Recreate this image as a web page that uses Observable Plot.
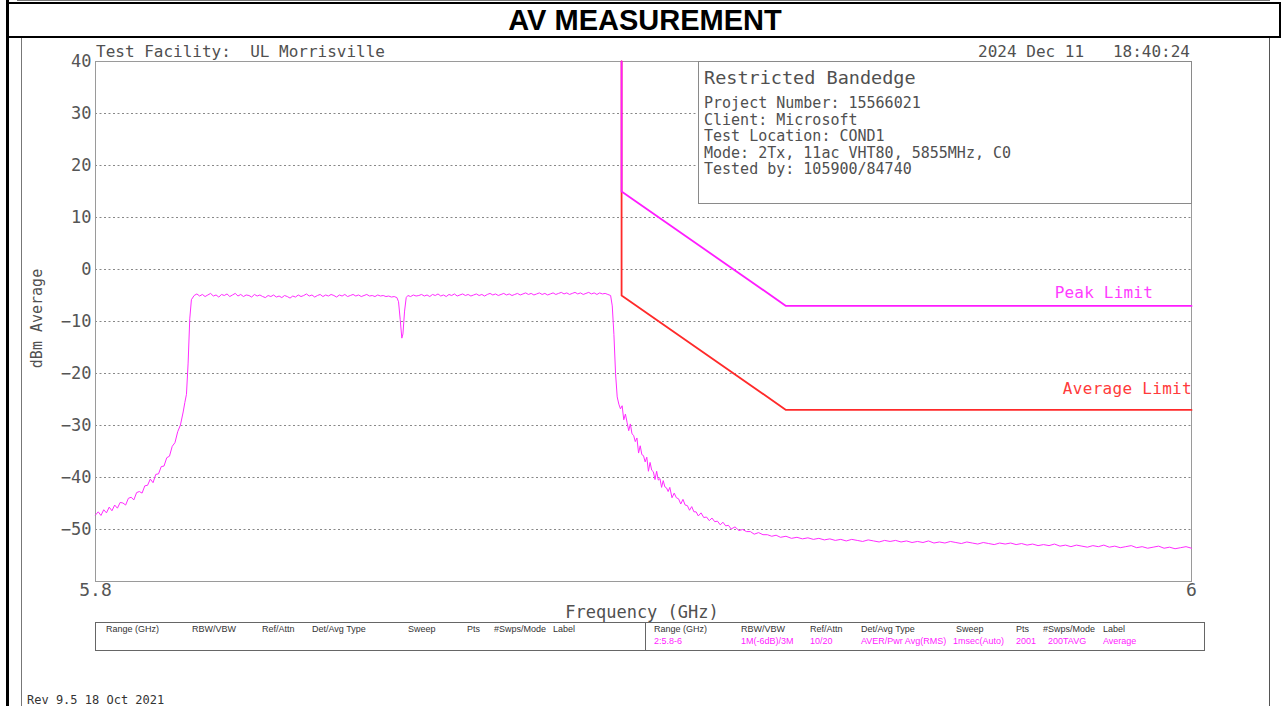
<!DOCTYPE html>
<html>
<head>
<meta charset="utf-8">
<script src="https://cdn.jsdelivr.net/npm/d3@7"></script>
<script src="https://cdn.jsdelivr.net/npm/@observablehq/plot@0.6"></script>
<style>
  html, body { margin: 0; padding: 0; background: #fff; }
  #page { position: relative; width: 1283px; height: 706px; overflow: hidden; background: #fff; }
  #page svg { position: absolute; left: 0; top: 0; }
  .t { position: absolute; white-space: pre; font-family: "DejaVu Sans Mono", monospace; color: #505050; }
  .ln { position: absolute; }
</style>
</head>
<body>
<div id="page"></div>
<script>
// ---------- DATA ----------
const title = "AV MEASUREMENT";
const facility = "Test Facility:  UL Morrisville";
const stamp = "2024 Dec 11   18:40:24";
const infoTitle = "Restricted Bandedge";
const infoLines = [
  "Project Number: 15566021",
  "Client: Microsoft",
  "Test Location: COND1",
  "Mode: 2Tx, 11ac VHT80, 5855MHz, C0",
  "Tested by: 105900/84740"
];
const yTicks = [-50, -40, -30, -20, -10, 0, 10, 20, 30, 40];
const gridTicks = [-50, -40, -30, -20, -10, 0, 10, 20, 30];
const xTicks = [5800, 6000];          // MHz, labelled in GHz
const xDomain = [5800, 6000];
const yDomain = [-60, 40];
const xLabel = "Frequency (GHz)";
const yLabel = "dBm Average";
const tableHeaders = ["Range (GHz)", "RBW/VBW", "Ref/Attn", "Det/Avg Type", "Sweep", "Pts", "#Swps/Mode", "Label"];
const tableValues = ["2:5.8-6", "1M(-6dB)/3M", "10/20", "AVER/Pwr Avg(RMS)", "1msec(Auto)", "2001", "200TAVG", "Average"];
const footer = "Rev 9.5 18 Oct 2021";

// limit lines [MHz, dBm]
const peakLimit = [[5896, 40], [5896, 15], [5926, -7], [6000, -7]];
const avgLimit  = [[5896, 40], [5896, -5], [5926, -27], [6000, -27]];

const lowSkirt = [
  [5800.0,-47.2],[5800.5,-46.6],[5801.0,-47.3],[5801.5,-46.2],[5802.0,-46.8],[5802.5,-45.7],
  [5803.0,-46.4],[5803.5,-45.3],[5804.0,-45.9],[5804.5,-44.8],[5805.0,-44.9],[5805.5,-45.3],
  [5806.0,-44.0],[5806.5,-43.8],[5807.0,-44.3],[5807.5,-42.9],[5808.0,-42.7],[5808.5,-43.0],
  [5809.0,-41.6],[5809.5,-41.5],[5810.0,-40.3],[5810.5,-41.0],[5811.0,-39.4],[5811.5,-39.3],
  [5812.0,-37.9],[5812.5,-37.8],[5813.0,-36.2],[5813.5,-35.9],[5814.0,-34.0],[5814.5,-33.3],
  [5815.0,-31.2],[5815.5,-29.9],[5816.0,-27.4],[5816.3,-25.6],[5816.6,-24.0],[5816.9,-18.0],
  [5817.2,-9.5],[5817.5,-5.8]
];
const inBand = [
  [5818.0,-5.0],[5818.5,-4.7],[5819.0,-5.1],[5819.5,-4.8],[5820.0,-5.2],[5820.5,-4.9],[5821.0,-4.6],
  [5821.5,-5.1],[5822.0,-4.9],[5822.5,-5.3],[5823.0,-4.8],[5823.5,-5.0],[5824.0,-4.7],[5824.5,-5.2],
  [5825.0,-4.9],[5825.5,-4.6],[5826.0,-5.1],[5826.5,-4.8],[5827.0,-5.2],[5827.5,-4.9],[5828.0,-5.0],
  [5828.5,-5.3],[5829.0,-4.8],[5829.5,-5.1],[5830.0,-4.9],[5830.5,-5.2],[5831.0,-5.4],[5831.5,-5.0],
  [5832.0,-5.2],[5832.5,-4.9],[5833.0,-5.3],[5833.5,-5.1],[5834.0,-5.4],[5834.5,-5.0],[5835.0,-5.2],
  [5835.5,-5.5],[5836.0,-5.1],[5836.5,-5.3],[5837.0,-4.9],[5837.5,-5.2],[5838.0,-5.0],[5838.5,-4.7],
  [5839.0,-5.1],[5839.5,-4.9],[5840.0,-5.3],[5840.5,-5.0],[5841.0,-4.8],[5841.5,-5.2],[5842.0,-4.9],
  [5842.5,-5.1],[5843.0,-4.8],[5843.5,-5.0],[5844.0,-5.3],[5844.5,-4.9],[5845.0,-5.1],[5845.5,-4.8],
  [5846.0,-5.2],[5846.5,-5.0],[5847.0,-4.8],[5847.5,-5.1],[5848.0,-4.9],[5848.5,-5.2],[5849.0,-5.0],
  [5849.5,-4.8],[5850.0,-5.1],[5850.5,-5.0],[5851.0,-5.2],[5851.5,-4.9],[5852.0,-5.1],[5852.5,-5.0],
  [5853.0,-5.2],[5853.5,-5.1],[5854.0,-5.3],[5854.5,-5.2],[5855.0,-5.4],[5855.3,-6.2],[5855.6,-9.6],
  [5855.9,-13.2],[5856.1,-12.4],[5856.4,-8.0],[5856.7,-5.4],[5857.0,-5.0],[5857.5,-5.2],[5858.0,-4.9],
  [5858.5,-5.1],[5859.0,-5.0],[5859.5,-4.8],[5860.0,-5.1],[5860.5,-4.9],[5861.0,-5.2],[5861.5,-4.8],
  [5862.0,-5.0],[5862.5,-4.7],[5863.0,-5.1],[5863.5,-4.9],[5864.0,-5.2],[5864.5,-4.8],[5865.0,-5.0],
  [5865.5,-4.7],[5866.0,-5.1],[5866.5,-4.9],[5867.0,-4.7],[5867.5,-5.0],[5868.0,-4.8],[5868.5,-5.1],
  [5869.0,-4.9],[5869.5,-4.7],[5870.0,-5.0],[5870.5,-4.8],[5871.0,-5.1],[5871.5,-4.8],[5872.0,-4.6],
  [5872.5,-4.9],[5873.0,-4.7],[5873.5,-5.0],[5874.0,-4.8],[5874.5,-4.6],[5875.0,-4.9],[5875.5,-4.7],
  [5876.0,-5.0],[5876.5,-4.8],[5877.0,-4.6],[5877.5,-4.9],[5878.0,-4.7],[5878.5,-4.5],[5879.0,-4.8],
  [5879.5,-4.6],[5880.0,-4.9],[5880.5,-4.7],[5881.0,-4.5],[5881.5,-4.8],[5882.0,-4.6],[5882.5,-4.9],
  [5883.0,-4.7],[5883.5,-4.5],[5884.0,-4.8],[5884.5,-4.6],[5885.0,-4.4],[5885.5,-4.7],[5886.0,-4.5],
  [5886.5,-4.8],[5887.0,-4.6],[5887.5,-4.4],[5888.0,-4.7],[5888.5,-4.5],[5889.0,-4.8],[5889.5,-4.6],
  [5890.0,-4.4],[5890.5,-4.7],[5891.0,-4.5],[5891.5,-4.8],[5892.0,-4.5],[5892.5,-4.7],[5893.0,-4.6],
  [5893.5,-4.8]
];
const highSkirt = [
  [5894.0,-5.0],[5894.3,-7.0],[5894.6,-12.5],[5894.9,-20.0],[5895.2,-24.5],[5895.5,-25.9],[5895.8,-26.8],
  [5896.1,-26.2],[5896.4,-28.9],[5896.7,-27.8],[5897.0,-29.4],[5897.3,-31.0],[5897.6,-29.7],[5897.9,-31.6],
  [5898.2,-31.9],[5898.5,-33.1],[5898.8,-32.4],[5899.1,-35.3],[5899.4,-33.9],[5899.7,-35.6],[5900.0,-35.8],
  [5900.3,-37.0],[5900.6,-36.1],[5900.9,-38.8],[5901.2,-37.1],[5901.5,-38.6],[5901.8,-38.9],[5902.1,-40.4],
  [5902.4,-38.8],[5902.7,-40.5],[5903.0,-40.2],[5903.3,-41.9],[5903.6,-40.6],[5903.9,-41.8],[5904.2,-42.0],
  [5904.5,-42.7],[5904.8,-41.9],[5905.2,-43.9],[5905.6,-43.0],[5906.0,-43.9],[5906.4,-44.1],[5906.8,-45.1],
  [5907.2,-44.2],[5907.6,-45.3],[5908.0,-45.4],[5908.4,-46.3],[5908.8,-45.6],[5909.2,-46.6],[5909.6,-46.6],
  [5910.0,-47.4],[5910.5,-46.8],[5911.0,-47.7],[5911.5,-47.6],[5912.0,-48.3],[5912.5,-47.8],[5913.0,-48.5],
  [5913.5,-48.4],[5914.0,-49.1],[5914.5,-48.6],[5915.0,-49.3],[5915.5,-49.2],[5916.0,-49.9],[5916.7,-49.5],
  [5917.4,-50.2],[5918.1,-50.0],[5918.8,-50.4],[5919.5,-50.4],[5920.2,-50.9],[5921.0,-50.6],[5921.8,-51.0],
  [5922.6,-51.0],[5923.4,-51.3]
];
const tail = [
  [5924.2,-51.1],[5925,-51.5],[5926,-51.3],[5927,-51.7],[5928,-51.5],[5929,-51.8],[5930,-51.6],[5931,-51.9],
  [5932,-51.7],[5933,-52.0],[5934,-51.8],[5935,-52.1],[5936,-51.9],[5937,-52.2],[5938,-51.9],[5939,-52.1],
  [5940,-52.3],[5941,-52.0],[5942,-52.2],[5943,-52.4],[5944,-52.1],[5945,-52.3],[5946,-52.1],[5947,-52.4],
  [5948,-52.2],[5949,-52.5],[5950,-52.3],[5951,-52.5],[5952,-52.2],[5953,-52.6],[5954,-52.4],[5955,-52.6],
  [5956,-52.3],[5957,-52.5],[5958,-52.7],[5959,-52.4],[5960,-52.6],[5961,-52.8],[5962,-52.5],[5963,-52.7],
  [5964,-52.9],[5965,-52.6],[5966,-52.8],[5967,-52.6],[5968,-52.9],[5969,-52.7],[5970,-53.0],[5971,-52.8],
  [5972,-53.1],[5973,-52.9],[5974,-53.1],[5975,-52.8],[5976,-53.2],[5977,-53.0],[5978,-53.3],[5979,-53.0],
  [5980,-53.2],[5981,-53.4],[5982,-53.1],[5983,-53.3],[5984,-53.0],[5985,-53.4],[5986,-53.2],[5987,-53.5],
  [5988,-53.3],[5989,-53.1],[5990,-53.5],[5991,-53.3],[5992,-53.6],[5993,-53.4],[5994,-53.2],[5995,-53.6],
  [5996,-53.4],[5997,-53.7],[5998,-53.5],[5999,-53.3],[6000,-53.6]
];

// ---------- BUILD ----------
const toRows = arr => arr.map(([f, dBm]) => ({f, dBm}));
const trace = toRows([...lowSkirt, ...inBand, ...highSkirt, ...tail]);

const page = document.getElementById("page");

const plot = Plot.plot({
  width: 1283,
  height: 706,
  marginTop: 61,
  marginLeft: 95,
  marginRight: 92,
  marginBottom: 125,
  style: { background: "transparent", fontFamily: "DejaVu Sans Mono", color: "#505050" },
  x: { domain: xDomain },
  y: { domain: yDomain },
  marks: [
    Plot.gridY(gridTicks, { stroke: "#888", strokeOpacity: 1, strokeDasharray: "2,2.5" }),
    Plot.frame({ stroke: "#9a9a9a" }),
    Plot.axisY(yTicks, { tickSize: 0, tickPadding: 4, label: null, fontSize: 17, fill: "#555", tickFormat: d => String(d).replace("-", "\u2212") }),
    Plot.axisX(xTicks, { tickSize: 0, tickPadding: 2, label: null, fontSize: 18, fill: "#555", tickFormat: d => String(d / 1000) }),
    Plot.line(toRows(avgLimit), { x: "f", y: "dBm", stroke: "#ff2a2a", strokeWidth: 1.8 }),
    Plot.line(toRows(peakLimit), { x: "f", y: "dBm", stroke: "#ff1cff", strokeWidth: 1.8 }),
    Plot.line(trace, { x: "f", y: "dBm", stroke: "#ff2cff", strokeWidth: 1 })
  ]
});
page.appendChild(plot);

// ---------- HTML annotations ----------
function line(x, y, w, h, color) {
  const d = document.createElement("div");
  d.className = "ln";
  Object.assign(d.style, { left: x + "px", top: y + "px", width: w + "px", height: h + "px", background: color });
  page.appendChild(d);
  return d;
}
function text(str, x, cy, fs, opts = {}) {
  const d = document.createElement("div");
  d.className = "t";
  d.textContent = str;
  const top = cy - fs * (opts.k ?? 0.48);
  Object.assign(d.style, { top: top + "px", fontSize: fs + "px", lineHeight: fs + "px" });
  if (opts.anchor === "end") d.style.right = (1283 - x) + "px";
  else if (opts.anchor === "middle") { d.style.left = x + "px"; d.style.transform = "translateX(-50%)"; }
  else d.style.left = x + "px";
  if (opts.color) d.style.color = opts.color;
  if (opts.family) d.style.fontFamily = opts.family;
  if (opts.weight) d.style.fontWeight = opts.weight;
  if (opts.ls) d.style.letterSpacing = opts.ls + "px";
  page.appendChild(d);
  return d;
}

// page borders
line(17, 0, 1253, 1, "#777");
line(6, 2, 1275, 2, "#000");
line(6, 0, 3, 706, "#000");
line(1279, 2, 2, 36, "#000");
line(6, 36, 1275, 2, "#000");
line(21, 38, 1, 668, "#777");
line(1269, 38, 1, 668, "#555");

// title
text(title, 645, 20, 29, { anchor: "middle", family: "'Liberation Sans', Arial, sans-serif", weight: "bold", color: "#000", k: 0.49 });

// header texts
text(facility, 96, 51.5, 16);
text(stamp, 1190, 51.5, 16, { anchor: "end" });

// info box
const box = document.createElement("div");
Object.assign(box.style, { position: "absolute", left: "698px", top: "61px", width: "492px", height: "141px", border: "1px solid #8a8a8a", background: "#fff" });
page.appendChild(box);
text(infoTitle, 704, 77.5, 18.5);
const infoY = [103.5, 120, 136.5, 153, 169.5];
infoLines.forEach((s, i) => text(s, 704, infoY[i], 15));

// limit labels
text("Peak Limit", 1153, 292.5, 16, { anchor: "end", color: "#ff3cff", ls: 0.2 });
text("Average Limit", 1192, 388.5, 16, { anchor: "end", color: "#ff3b3b", ls: 0.3 });

// axis titles
text(xLabel, 642, 612.5, 17, { anchor: "middle" });
const yl = text(yLabel, 37, 318, 15, { anchor: "middle" });
yl.style.top = (318 - 7.5) + "px";
yl.style.transform = "translateX(-50%) rotate(-90deg)";

// settings table
const tb = document.createElement("div");
Object.assign(tb.style, { position: "absolute", left: "95px", top: "622px", width: "1108px", height: "27px", border: "1px solid #666" });
page.appendChild(tb);
line(645, 622, 1, 29, "#666");
const colsL = [106, 192, 262, 312, 408, 467, 494, 553];
const colsR = [654, 741, 810, 861, 956, 1016, 1043, 1103];
const valCols = [654, 741, 810, 861, 953, 1016, 1048, 1103];
const tf = "'Liberation Sans Narrow', 'Liberation Sans', sans-serif";
tableHeaders.forEach((h, i) => {
  text(h, colsL[i], 629, 9, { family: tf, color: "#333" });
  text(h, colsR[i], 629, 9, { family: tf, color: "#333" });
});
tableValues.forEach((v, i) => text(v, valCols[i], 641, 9, { family: tf, color: "#ff22ff" }));

// footer
text(footer, 27, 700, 12, { color: "#333" });
</script>
</body>
</html>
